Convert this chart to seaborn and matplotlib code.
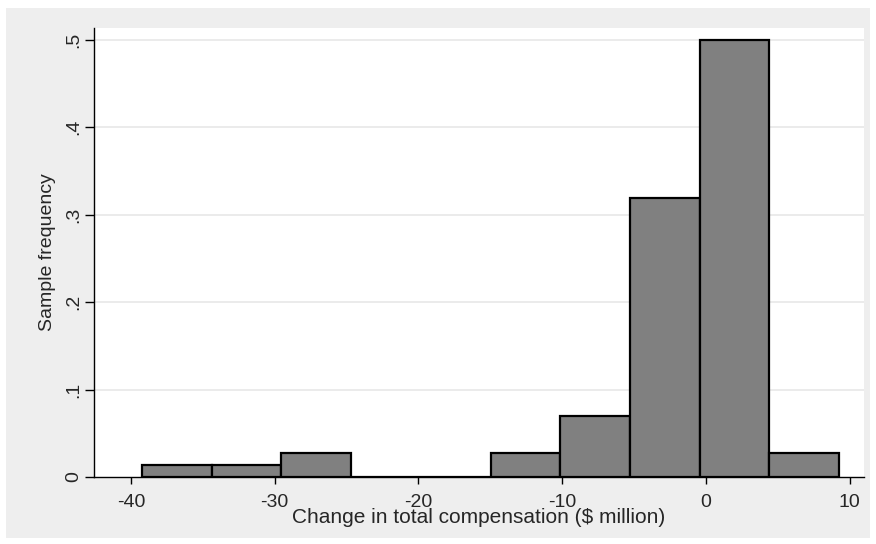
import numpy as np
import pandas as pd
import matplotlib
matplotlib.use("Agg")
import matplotlib.pyplot as plt
import seaborn as sns
from matplotlib.patches import Rectangle

# Data: histogram bin edges ($ million) and sample frequency per bin
bin_edges = [-39.23, -34.38, -29.53, -24.68, -19.83, -14.98, -10.13, -5.28, -0.43, 4.42, 9.28]
frequency = [1/72, 1/72, 2/72, 0.0, 0.0, 2/72, 5/72, 23/72, 36/72, 2/72]
x_ticks = [-40, -30, -20, -10, 0, 10]
y_ticks = [0, 0.1, 0.2, 0.3, 0.4, 0.5]
y_ticklabels = ["0", ".1", ".2", ".3", ".4", ".5"]

centers = [(a + b) / 2 for a, b in zip(bin_edges[:-1], bin_edges[1:])]
df = pd.DataFrame({"change": centers, "freq": frequency})

sns.set_theme(style="white")
plt.rcParams["font.family"] = ["Liberation Sans", "DejaVu Sans"]

W, H = 876, 544
fig = plt.figure(figsize=(W / 100, H / 100), dpi=100, facecolor="white")
fig.patches.append(Rectangle((6 / W, 6 / H), (W - 12) / W, (H - 14) / H,
                             transform=fig.transFigure, facecolor="#eeeeee",
                             edgecolor="none", zorder=-10))
ax = fig.add_axes([94 / W, 1 - 477 / H, (864 - 94) / W, (477 - 28) / H])
ax.set_zorder(1)
ax.set_facecolor("white")

sns.histplot(data=df, x="change", weights="freq", bins=bin_edges, stat="count",
             color="#808080", alpha=1.0, edgecolor="black", linewidth=1.6, ax=ax, zorder=3)

ax.set_xlim(-42.57, 11.0)
ax.set_ylim(0, 0.5134)
ax.set_xticks(x_ticks)
ax.set_xticklabels([str(t) for t in x_ticks])
ax.set_yticks(y_ticks)
ax.set_yticklabels(y_ticklabels, rotation=90, va="center")
for yv in y_ticks[1:]:
    ax.axhline(yv, color="#e8e8e8", linewidth=1.2, zorder=1)

for s in ["top", "right"]:
    ax.spines[s].set_visible(False)
for s in ["left", "bottom"]:
    ax.spines[s].set_color("black")
    ax.spines[s].set_linewidth(1.0)
    ax.spines[s].set_zorder(4)

ax.tick_params(axis="y", direction="out", length=6.5, width=1.0, color="black",
               labelsize=14, pad=2.2, left=True)
ax.tick_params(axis="x", direction="out", length=5, width=1.0, color="black",
               labelsize=14, pad=7.0, bottom=True)

ax.set_xlabel("Change in total compensation ($ million)", fontsize=15, labelpad=-2.0)
ax.set_ylabel("Sample frequency", fontsize=14, labelpad=6.5)

fig.savefig("out.png", dpi=100, facecolor="white")
